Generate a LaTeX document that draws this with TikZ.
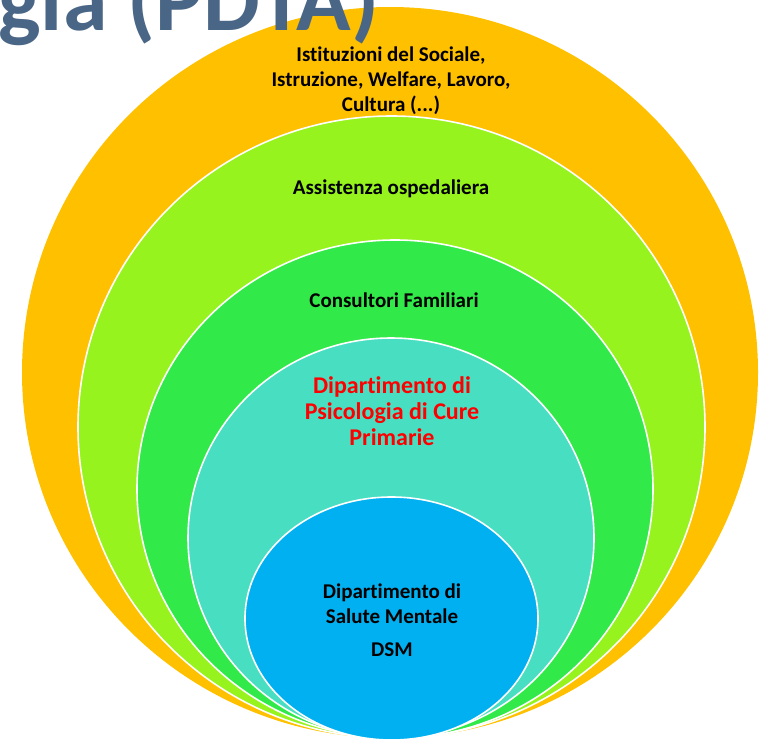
\documentclass[tikz,border=0pt]{standalone}
\usepackage{fontspec}
\setmainfont{Carlito}[Ligatures={NoCommon}]
\definecolor{cOrange}{RGB}{255,192,0}
\definecolor{cLime}{RGB}{150,243,29}
\definecolor{cGreen}{RGB}{50,233,74}
\definecolor{cTeal}{RGB}{72,222,194}
\definecolor{cBlue}{RGB}{0,176,240}
\definecolor{cTitle}{RGB}{74,102,134}
\definecolor{cRed}{RGB}{255,0,0}
\begin{document}
\begin{tikzpicture}[x=1pt,y=-1pt,
  ring/.style={draw=white,line width=1.6pt},
  lbl/.style={align=center,text=black,font=\fontsize{21}{25}\selectfont\bfseries,inner sep=0pt},
  redlbl/.style={align=center,text=cRed,font=\fontsize{24}{26}\selectfont\bfseries,inner sep=0pt}]
\useasboundingbox (0,0) rectangle (762,741);
\clip (0,0) rectangle (762,741);
\fill[cOrange] (390,372.5) ellipse [x radius=368, y radius=365.5];
\filldraw[fill=cLime,ring] (391.5,427) ellipse [x radius=313.5, y radius=311];
\filldraw[fill=cGreen,ring] (395,489) ellipse [x radius=258, y radius=249];
\filldraw[fill=cTeal,ring] (391,538) ellipse [x radius=203, y radius=200];
\filldraw[fill=cBlue,ring] (391.5,618.5) ellipse [x radius=146.5, y radius=121.5];
\node[anchor=base west,inner sep=0pt,text=cTitle,font=\fontsize{90}{100}\selectfont\bfseries] (title) at (-2,31) {gia (PDTA)};
\node[lbl] (ist) at (391,80.5) {Istituzioni del Sociale,\\Istruzione, Welfare, Lavoro,\\Cultura (...)};
\node[lbl] (osp) at (391,189) {Assistenza ospedaliera};
\node[lbl] (cons) at (394,300) {Consultori Familiari};
\node[redlbl] (dpcp) at (392,411) {Dipartimento di\\Psicologia di Cure\\Primarie};
\node[lbl] (dsm) at (392,620) {Dipartimento di\\Salute Mentale\\[8pt]DSM};
\end{tikzpicture}
\end{document}
